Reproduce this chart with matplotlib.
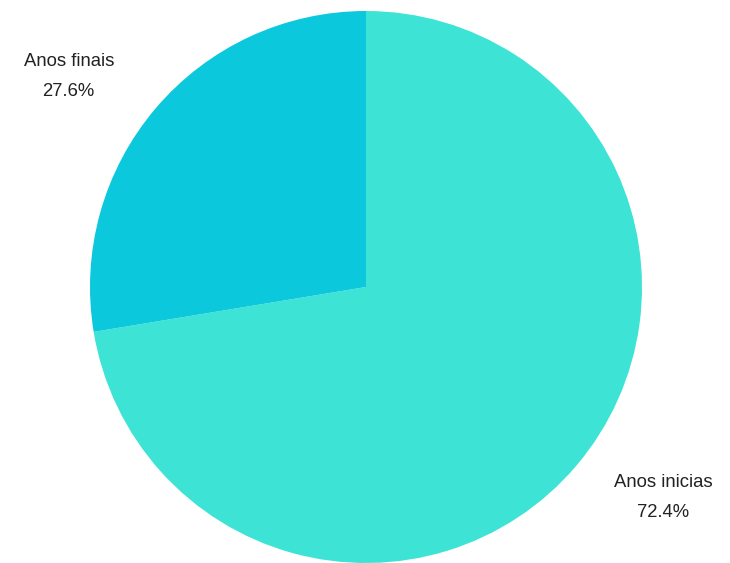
import numpy as np
import matplotlib.pyplot as plt

labels = ['Anos inicias', 'Anos finais']
values = [72.4, 27.6]
colors = ['#3DE3D5', '#0BC8DC']

plt.rcParams['font.family'] = ['Liberation Sans', 'DejaVu Sans']

fig = plt.figure(figsize=(7.30, 5.63), dpi=100)
ax = fig.add_axes([90 / 730, 0 / 563, 552 / 730, 552 / 563])

wedges, texts = ax.pie(values, colors=colors, startangle=90, counterclock=False,
                       labels=[f'{l}\n{v}%' for l, v in zip(labels, values)],
                       labeldistance=1.32, textprops={'fontsize': 13.3, 'color': '#222222',
                                                      'linespacing': 2.0})
# nudge labels like the reference
for w, t in zip(wedges, texts):
    ang = np.deg2rad((w.theta1 + w.theta2) / 2 + 5)
    t.set_position((1.32 * np.cos(ang), 1.32 * np.sin(ang)))
    t.set_ha('center')
    t.set_va('center')

ax.set_xlim(-1, 1)
ax.set_ylim(-1, 1)
ax.set_aspect('equal')
ax.axis('off')

fig.savefig('out.png', dpi=100)
